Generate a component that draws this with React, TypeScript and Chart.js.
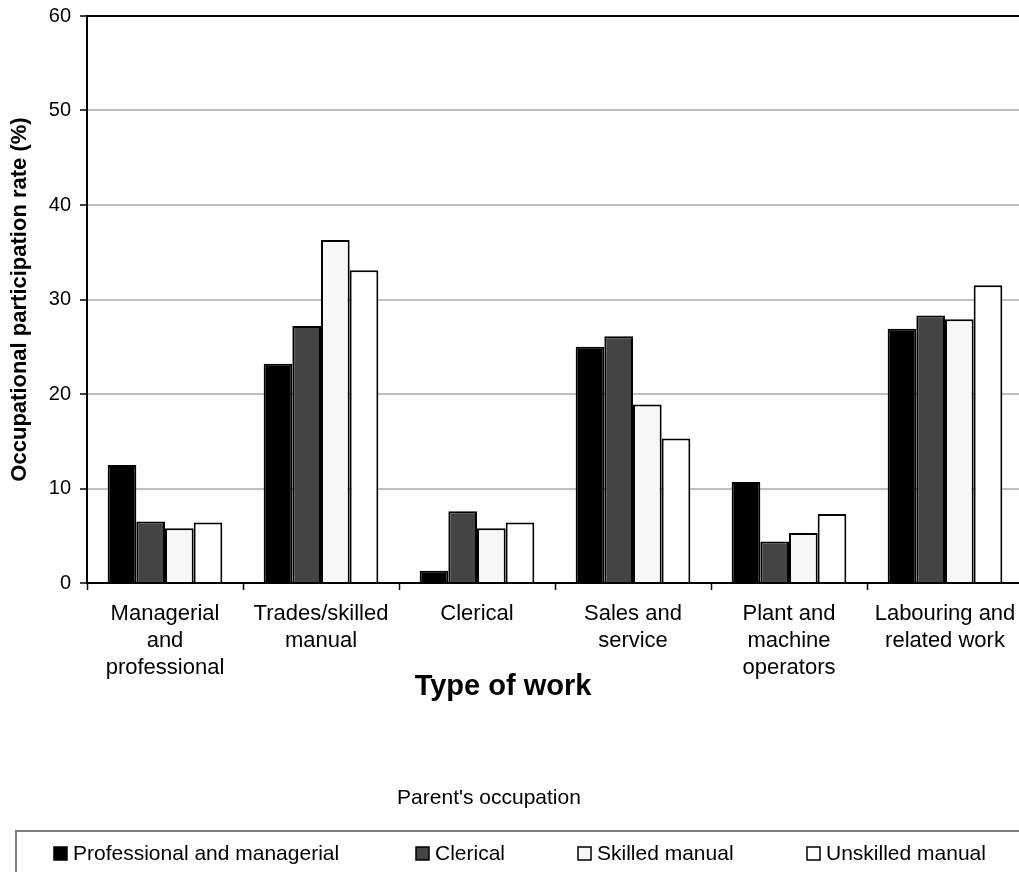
import React, { useEffect, useRef } from "react";
import { Chart, registerables } from "chart.js";

Chart.register(...registerables);

const categories: string[][] = [
  ["Managerial", "and", "professional"],
  ["Trades/skilled", "manual"],
  ["Clerical"],
  ["Sales and", "service"],
  ["Plant and", "machine", "operators"],
  ["Labouring and", "related work"],
];

const seriesNames = ["Professional and managerial", "Clerical", "Skilled manual", "Unskilled manual"];
const seriesColors = ["#000000", "#444444", "#f7f7f7", "#ffffff"];

const professionalManagerial = [12.5, 23.2, 1.3, 25.0, 10.7, 26.9];
const clerical = [6.5, 27.2, 7.6, 26.1, 4.4, 28.3];
const skilledManual = [5.8, 36.3, 5.8, 18.9, 5.3, 27.9];
const unskilledManual = [6.4, 33.1, 6.4, 15.3, 7.3, 31.5];

const yTicks = [0, 10, 20, 30, 40, 50, 60];

const yTitle = "Occupational participation rate (%)";
const xTitle = "Type of work";
const legendTitle = "Parent's occupation";

const FONT = "'Liberation Sans', Arial, sans-serif";
const W = 1040;
const H = 872;

const extras = {
  id: "extras",
  afterDraw(chart: any) {
    const ctx = chart.ctx;
    const area = chart.chartArea;
    ctx.save();
    ctx.fillStyle = "#000";
    ctx.font = `bold 22px ${FONT}`;
    ctx.textAlign = "center";
    ctx.textBaseline = "middle";
    ctx.translate(20, (area.top + area.bottom) / 2);
    ctx.rotate(-Math.PI / 2);
    ctx.fillText(yTitle, 0, 0);
    ctx.restore();

    ctx.save();
    ctx.fillStyle = "#000";
    ctx.font = `bold 29px ${FONT}`;
    ctx.textAlign = "center";
    ctx.textBaseline = "middle";
    ctx.fillText(xTitle, 503, 687);

    ctx.font = `21px ${FONT}`;
    ctx.fillText(legendTitle, 489, 798);

    ctx.strokeStyle = "#808080";
    ctx.lineWidth = 2;
    ctx.strokeRect(16, 831, 1100, 100);

    const xs = [54, 416, 578, 807];
    ctx.textAlign = "left";
    ctx.font = `21px ${FONT}`;
    chart.data.datasets.forEach((ds: any, i: number) => {
      const x = xs[i];
      ctx.fillStyle = ds.backgroundColor;
      ctx.fillRect(x, 847, 13, 13);
      ctx.strokeStyle = "#000";
      ctx.lineWidth = 1.5;
      ctx.strokeRect(x, 847, 13, 13);
      ctx.fillStyle = "#000";
      ctx.fillText(ds.label, x + 19, 854);
    });
    ctx.restore();
  },
};

export default function App() {
  const ref = useRef<HTMLCanvasElement | null>(null);
  useEffect(() => {
    if (!ref.current) return;
    const data = [professionalManagerial, clerical, skilledManual, unskilledManual];
    const chart = new Chart(ref.current, {
      type: "bar",
      data: {
        labels: categories,
        datasets: data.map((d, i) => ({
          label: seriesNames[i],
          data: d,
          backgroundColor: seriesColors[i],
          borderColor: "#000000",
          borderWidth: 2,
          categoryPercentage: 0.735,
          barPercentage: 1,
        })),
      },
      options: {
        responsive: false,
        animation: false,
        devicePixelRatio: 1,
        layout: { padding: { top: 16, left: 0, right: W - 1023, bottom: 0 } },
        plugins: { legend: { display: false }, tooltip: { enabled: false } },
        scales: {
          x: {
            grid: {
              offset: true,
              drawOnChartArea: false,
              tickLength: 7,
              tickColor: "#000",
              tickWidth: 1.5,
            },
            border: { color: "#000", width: 2 },
            ticks: {
              color: "#000",
              font: { family: FONT, size: 22, lineHeight: 27 / 22 },
              padding: 10,
              maxRotation: 0,
              autoSkip: false,
            },
            afterFit: (s: any) => {
              s.height = H - 583;
              s.paddingLeft = 0;
              s.paddingRight = 0;
            },
          },
          y: {
            min: 0,
            max: 60,
            afterBuildTicks: (s: any) => {
              s.ticks = yTicks.map((v) => ({ value: v }));
            },
            grid: {
              color: (c: any) => (c.tick && c.tick.value === 60 ? "#000" : "#c0c0c0"),
              lineWidth: 2,
              tickLength: 7,
              tickColor: "#000",
              tickWidth: 1.5,
            },
            border: { color: "#000", width: 2 },
            ticks: {
              color: "#000",
              font: { family: FONT, size: 20 },
              padding: 9,
            },
            afterFit: (s: any) => {
              s.width = 87;
              s.paddingTop = 0;
              s.paddingBottom = 0;
            },
          },
        },
      },
      plugins: [extras],
    });
    return () => chart.destroy();
  }, []);
  return (
    <div style={{ position: "absolute", left: 0, top: 0, width: 1019, height: 872, overflow: "hidden", background: "#fff" }}>
      <canvas ref={ref} width={W} height={H} style={{ display: "block" }} />
    </div>
  );
}
